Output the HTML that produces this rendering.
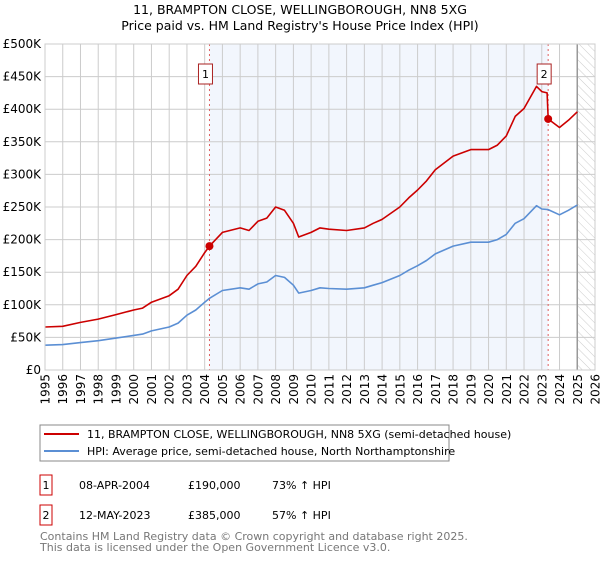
<!DOCTYPE html>
<html><head><meta charset="utf-8"><style>
body{margin:0;background:#fff;font-family:"DejaVu Sans","Liberation Sans",sans-serif;}
svg text{font-family:"DejaVu Sans","Liberation Sans",sans-serif;}
</style></head><body>
<svg id="c" width="600" height="560" xmlns="http://www.w3.org/2000/svg">
<defs><pattern id="hatch" width="6" height="6" patternUnits="userSpaceOnUse" patternTransform="rotate(-45)"><line x1="0" y1="0" x2="0" y2="6" stroke="#ccc" stroke-width="1"/></pattern></defs>
<text x="300" y="14" text-anchor="middle" font-size="12.5">11, BRAMPTON CLOSE, WELLINGBOROUGH, NN8 5XG</text>
<text x="300" y="30" text-anchor="middle" font-size="12.5">Price paid vs. HM Land Registry's House Price Index (HPI)</text>
<g id="plot"></g>
<g>
<rect x="40" y="425" width="409" height="36" fill="#fff" stroke="#888"/>
<line x1="44" y1="434" x2="79" y2="434" stroke="#cc0000" stroke-width="2"/>
<text x="87" y="438" font-size="11">11, BRAMPTON CLOSE, WELLINGBOROUGH, NN8 5XG (semi-detached house)</text>
<line x1="44" y1="451" x2="79" y2="451" stroke="#5b8fd4" stroke-width="2"/>
<text x="87" y="455" font-size="11">HPI: Average price, semi-detached house, North Northamptonshire</text>
</g>
<g font-size="11">
<rect x="40" y="475" width="12" height="20" fill="#fff" stroke="#cc0000"/><text x="46" y="489" text-anchor="middle">1</text>
<text x="79" y="489">08-APR-2004</text><text x="188" y="489">£190,000</text><text x="272" y="489">73% ↑ HPI</text>
<rect x="40" y="505" width="12" height="20" fill="#fff" stroke="#cc0000"/><text x="46" y="519" text-anchor="middle">2</text>
<text x="79" y="519">12-MAY-2023</text><text x="188" y="519">£385,000</text><text x="272" y="519">57% ↑ HPI</text>
</g>
<text x="40" y="540" font-size="11" fill="#777">Contains HM Land Registry data © Crown copyright and database right 2025.</text>
<text x="40" y="551" font-size="11" fill="#777">This data is licensed under the Open Government Licence v3.0.</text>
</svg>
<script>
const hpiYears=[1995,1996,1997,1998,1999,2000,2000.5,2001,2002,2002.5,2003,2003.5,2004,2004.27,2005,2006,2006.5,2007,2007.5,2008,2008.5,2009,2009.3,2010,2010.5,2011,2012,2013,2013.5,2014,2015,2015.5,2016,2016.5,2017,2018,2019,2020,2020.5,2021,2021.5,2022,2022.7,2023,2023.36,2024,2024.5,2025];
const hpiValues=[38,39,42,45,49,53,55,60,66,72,84,92,104,110,122,126,124,132,135,145,142,130,118,122,126,125,124,126,130,134,145,153,160,168,178,190,196,196,200,208,225,232,252,247,246,238,245,253];
const priceYears=[1995,1996,1997,1998,1999,2000,2000.5,2001,2002,2002.5,2003,2003.5,2004,2004.27,2005,2006,2006.5,2007,2007.5,2008,2008.5,2009,2009.3,2010,2010.5,2011,2012,2013,2013.5,2014,2015,2015.5,2016,2016.5,2017,2018,2019,2020,2020.5,2021,2021.5,2022,2022.7,2023,2023.3,2023.36,2024,2024.5,2025];
const priceValues=[66,67,73,78,85,92,95,104,114,124,145,159,180,190,211,218,214,228,233,250,245,225,204,211,218,216,214,218,225,231,250,264,276,290,307,328,338,338,345,359,389,401,435,427,425,385,372,383,396];
const saleYears=[2004.27,2023.36];
const saleValues=[190,385];
const saleLabels=["1","2"];
const yTicks=[0,50,100,150,200,250,300,350,400,450,500];
const yTickLabels=["£0","£50K","£100K","£150K","£200K","£250K","£300K","£350K","£400K","£450K","£500K"];
const xTicks=[1995,1996,1997,1998,1999,2000,2001,2002,2003,2004,2005,2006,2007,2008,2009,2010,2011,2012,2013,2014,2015,2016,2017,2018,2019,2020,2021,2022,2023,2024,2025,2026];
const dataEnd=2025;
const X0=45,X1=595,Y0=370,Y1=44;
const xs=t=>X0+(t-1995)/(2026-1995)*(X1-X0);
const ys=v=>Y0-v/500*(Y0-Y1);
const NS="http://www.w3.org/2000/svg";
const g=document.getElementById('plot');
function mk(tag,attrs,parent){const e=document.createElementNS(NS,tag);for(const k in attrs)e.setAttribute(k,attrs[k]);(parent||g).appendChild(e);return e;}
let e=mk('rect',{x:xs(saleYears[0]),y:Y1,width:xs(saleYears[1])-xs(saleYears[0]),height:Y0-Y1,fill:'#f2f6fd'});


e=mk('rect',{x:xs(dataEnd),y:Y1,width:X1-xs(dataEnd),height:Y0-Y1,fill:'url(#hatch)'});


yTicks.forEach((v,i)=>{
 let l=mk('line',{x1:X0,x2:X1,y1:ys(v),y2:ys(v),stroke:'#ccc'});
 
 
 let t=mk('text',{x:X0-4,y:ys(v)+4,'text-anchor':'end','font-size':12});
 
 
 t.textContent=yTickLabels[i];
});
xTicks.forEach(y=>{
 let l=mk('line',{x1:xs(y),x2:xs(y),y1:Y1,y2:Y0,stroke:'#ccc'});
 
 
 const tx=xs(y)+4.5, ty=374;
 let t=mk('text',{x:tx,y:ty,'text-anchor':'end','font-size':12,transform:'rotate(-90 '+tx+' '+ty+')'});
 
 
 t.textContent=y;
});
e=mk('line',{x1:xs(dataEnd),x2:xs(dataEnd),y1:Y1,y2:Y0,stroke:'#999','stroke-width':1.5});


saleYears.forEach(t=>{
 let l=mk('line',{x1:xs(t),x2:xs(t),y1:Y1,y2:Y0,stroke:'#e06060','stroke-dasharray':'2,3'});
 
 
});
function path(xa,va,col,name){
 const d=xa.map((t,i)=>(i?'L':'M')+xs(t).toFixed(1)+','+ys(va[i]).toFixed(1)).join('');
 const p=mk('path',{d:d,fill:'none',stroke:col,'stroke-width':1.6,'stroke-linejoin':'round'});
 
 
}
path(hpiYears,hpiValues,'#5b8fd4','hpi-line');
path(priceYears,priceValues,'#cc0000','price-paid-line');
saleYears.forEach((t,i)=>{
 let c=mk('circle',{cx:xs(t),cy:ys(saleValues[i]),r:4,fill:'#cc0000'});
 
 
 let bx=xs(t)-7;
 let r=mk('rect',{x:bx-4,y:64,width:14,height:20,fill:'#fff',stroke:'#aa2222'});
 
 
 let tx=mk('text',{x:bx+3,y:78,'text-anchor':'middle','font-size':11});
 
 
 tx.textContent=saleLabels[i];
});
e=mk('rect',{x:X0,y:Y1,width:X1-X0,height:Y0-Y1,fill:'none',stroke:'#ccc'});


</script>
</body></html>
